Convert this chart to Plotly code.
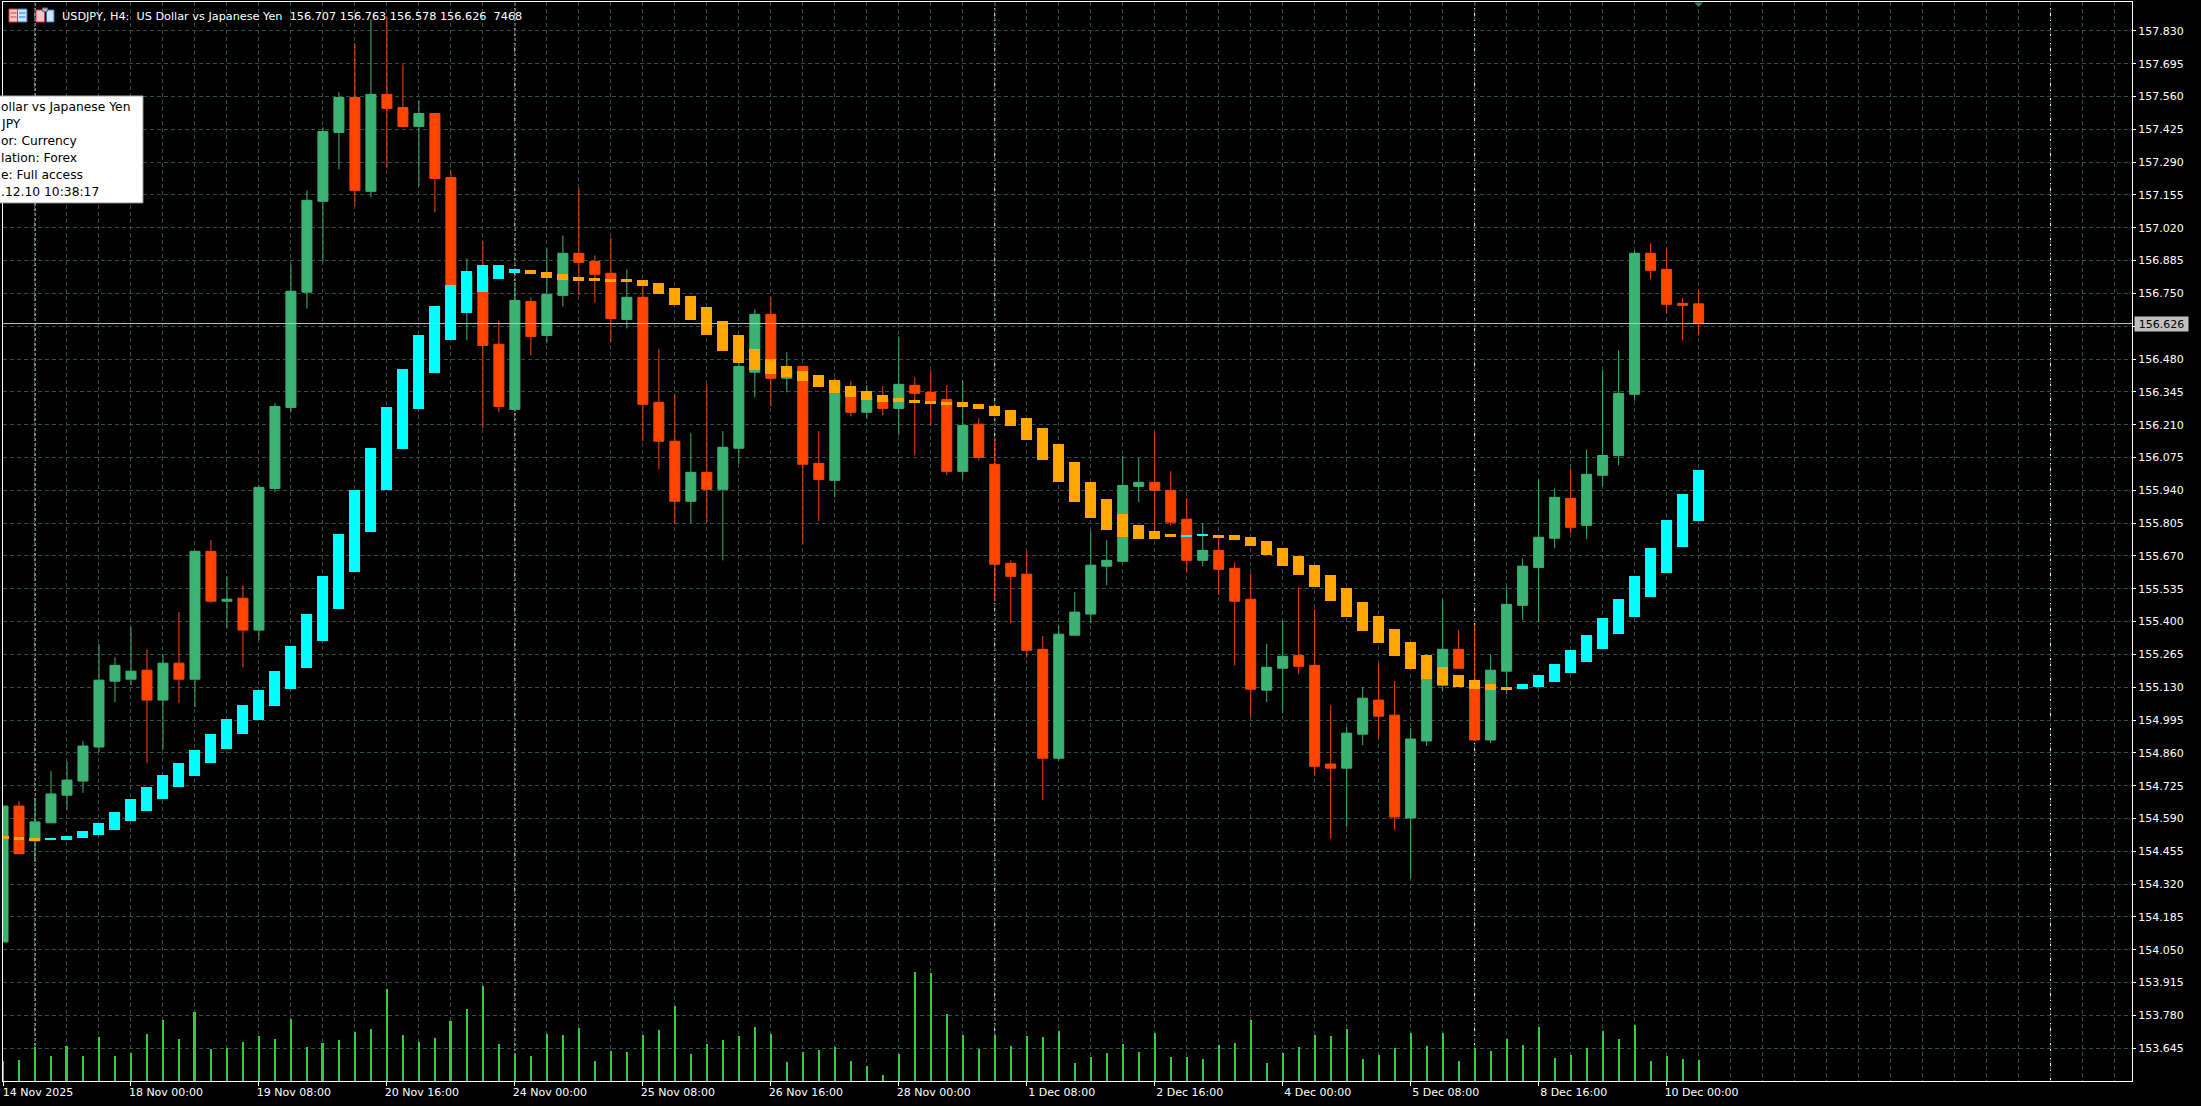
import plotly.graph_objects as go

# ---------- data ----------
candle_open = [154.082,154.641,154.498,154.572,154.686,154.744,154.884,155.155,155.163,155.200,155.077,155.229,155.163,155.689,155.484,155.496,155.365,155.948,156.281,156.755,157.129,157.412,157.556,157.170,157.569,157.515,157.437,157.490,157.227,156.680,156.824,156.541,156.273,156.717,156.577,156.742,156.915,156.882,156.833,156.643,156.734,156.302,156.142,155.895,156.014,155.944,156.113,156.426,156.664,156.401,156.450,156.051,155.981,156.359,156.261,156.318,156.277,156.372,156.343,156.314,156.018,156.212,156.047,155.640,155.595,155.286,154.838,155.344,155.431,155.628,155.648,155.956,155.973,155.940,155.821,155.652,155.693,155.619,155.492,155.118,155.208,155.261,155.220,154.814,154.797,154.937,155.077,155.015,154.592,154.909,155.138,155.286,155.151,154.913,155.196,155.467,155.623,155.743,155.907,155.796,156.002,156.083,156.335,156.915,156.849,156.709,156.707]
candle_high = [154.641,154.662,154.666,154.785,154.826,154.909,155.308,155.253,155.377,155.286,155.265,155.439,155.693,155.735,155.586,155.549,155.960,156.298,156.870,157.174,157.433,157.577,157.779,157.877,157.889,157.692,157.544,157.490,157.256,156.894,156.964,156.639,156.796,156.734,156.935,156.988,157.186,156.906,156.980,156.849,156.783,156.520,156.335,156.175,156.377,156.183,156.463,156.684,156.734,156.508,156.450,156.183,156.401,156.389,156.372,156.368,156.573,156.405,156.434,156.372,156.393,156.236,156.150,155.652,155.689,155.340,155.385,155.521,155.772,155.735,156.083,156.075,156.179,156.018,155.907,155.805,155.747,155.644,155.599,155.308,155.406,155.541,155.451,155.056,154.966,155.130,155.229,155.155,154.962,155.265,155.492,155.365,155.385,155.265,155.545,155.660,155.985,155.948,156.030,156.108,156.434,156.516,156.927,156.956,156.939,156.730,156.763]
candle_low = [154.082,154.445,154.411,154.572,154.625,154.695,154.863,155.069,155.138,154.818,154.871,155.065,155.048,155.476,155.373,155.212,155.324,155.932,156.261,156.688,156.878,157.260,157.108,157.145,157.264,157.433,157.190,157.083,156.721,156.557,156.195,156.261,156.265,156.495,156.545,156.697,156.742,156.713,156.549,156.606,156.142,156.026,155.801,155.805,155.809,155.652,156.047,156.323,156.285,156.343,155.718,155.813,155.911,156.244,156.236,156.248,156.166,156.083,156.207,156.002,155.985,156.063,155.484,155.394,155.253,154.666,154.830,155.344,155.394,155.549,155.648,155.891,155.739,155.796,155.603,155.628,155.508,155.220,155.007,155.069,155.024,155.183,154.768,154.506,154.555,154.892,154.917,154.543,154.345,154.888,155.114,155.208,154.913,154.900,155.102,155.406,155.398,155.702,155.763,155.739,155.956,156.043,156.310,156.808,156.668,156.557,156.578]
candle_close = [154.641,154.445,154.576,154.691,154.748,154.888,155.159,155.220,155.196,155.077,155.229,155.163,155.689,155.484,155.492,155.365,155.952,156.285,156.759,157.133,157.416,157.556,157.174,157.569,157.511,157.437,157.490,157.223,156.742,156.824,156.536,156.285,156.721,156.573,156.746,156.915,156.878,156.829,156.647,156.734,156.294,156.142,155.895,156.014,155.944,156.117,156.450,156.664,156.401,156.438,156.047,155.985,156.389,156.261,156.331,156.277,156.376,156.339,156.310,156.018,156.207,156.075,155.636,155.586,155.282,154.838,155.348,155.439,155.632,155.652,155.960,155.973,155.940,155.809,155.652,155.693,155.615,155.484,155.122,155.212,155.257,155.216,154.805,154.797,154.941,155.085,155.011,154.596,154.917,155.253,155.286,155.208,154.913,155.200,155.471,155.628,155.747,155.911,155.788,156.006,156.083,156.339,156.915,156.845,156.705,156.701,156.626]

band_upper = [154.518,154.514,154.510,154.506,154.518,154.539,154.572,154.617,154.670,154.719,154.768,154.818,154.871,154.937,154.999,155.056,155.118,155.196,155.299,155.431,155.586,155.760,155.940,156.113,156.281,156.438,156.577,156.697,156.783,156.841,156.865,156.865,156.849,156.845,156.837,156.829,156.816,156.812,156.808,156.808,156.804,156.792,156.771,156.738,156.693,156.635,156.577,156.520,156.479,156.450,156.430,156.413,156.393,156.368,156.347,156.331,156.318,156.310,156.306,156.302,156.302,156.294,156.285,156.269,156.236,156.195,156.129,156.055,155.973,155.903,155.842,155.796,155.772,155.760,155.755,155.760,155.755,155.755,155.747,155.731,155.702,155.669,155.632,155.590,155.537,155.480,155.422,155.369,155.315,155.261,155.212,155.179,155.159,155.142,155.130,155.142,155.179,155.224,155.282,155.344,155.414,155.492,155.586,155.702,155.817,155.924,156.022]
band_lower = [154.506,154.502,154.498,154.502,154.502,154.510,154.522,154.543,154.580,154.621,154.670,154.719,154.764,154.818,154.876,154.937,154.995,155.052,155.122,155.208,155.320,155.451,155.603,155.768,155.940,156.108,156.273,156.422,156.557,156.668,156.755,156.808,156.833,156.829,156.812,156.804,156.800,156.800,156.800,156.796,156.779,156.746,156.701,156.639,156.577,156.512,156.463,156.434,156.418,156.405,156.389,156.364,156.339,156.323,156.310,156.302,156.302,156.298,156.298,156.294,156.281,156.273,156.244,156.203,156.146,156.063,155.973,155.891,155.825,155.776,155.747,155.739,155.739,155.747,155.751,155.751,155.747,155.735,155.710,155.673,155.628,155.590,155.541,155.484,155.418,155.361,155.311,155.257,155.204,155.163,155.138,155.130,155.122,155.118,155.122,155.122,155.130,155.151,155.187,155.233,155.286,155.348,155.418,155.500,155.599,155.706,155.813]
band_trend = ["down"]*3 + ["up"]*30 + ["down"]*41 + ["up"]*2 + ["down"]*19 + ["up"]*12

tick_volume = [7100,7468,12070,8875,12425,8875,15620,8875,9940,16685,21655,14910,24495,11360,11715,13845,15975,14910,22010,12070,13490,14555,17395,18460,32660,16330,13845,15265,21300,25560,33725,13135,9585,8875,16685,16330,18815,7100,10650,10295,16330,18105,26625,9585,13135,14555,15975,19170,16685,6745,10295,11005,12070,7100,5325,2130,9585,38695,38340,23785,16330,11360,16330,12425,15975,15620,17750,6390,8520,9940,13135,10295,17040,8520,8520,7810,12780,13490,21655,6390,9940,12070,16330,15975,18460,7810,9230,11715,17040,12425,17040,7100,11715,10650,14910,12780,19170,8165,9230,11715,17750,14910,19880,7100,8875,7810,7468]

x_tick_index = [0,8,16,24,32,40,48,56,64,72,80,88,96,104]
x_tick_labels = ["14 Nov 2025","18 Nov 00:00","19 Nov 08:00","20 Nov 16:00","24 Nov 00:00","25 Nov 08:00","26 Nov 16:00","28 Nov 00:00","1 Dec 08:00","2 Dec 16:00","4 Dec 00:00","5 Dec 08:00","8 Dec 16:00","10 Dec 00:00"]
y_ticks = [157.830,157.695,157.560,157.425,157.290,157.155,157.020,156.885,156.750,156.615,156.480,156.345,156.210,156.075,155.940,155.805,155.670,155.535,155.400,155.265,155.130,154.995,154.860,154.725,154.590,154.455,154.320,154.185,154.050,153.915,153.780,153.645]
period_separators = [2,32,62,92,128]
last_price = 156.626
header = "USDJPY, H4:\u00a0\u00a0US Dollar vs Japanese Yen\u00a0\u00a0156.707 156.763 156.578 156.626\u00a0\u00a07468"
info_lines = ["ollar vs Japanese Yen","JPY","or: Currency","lation: Forex","e: Full access",".12.10 10:38:17"]

# ---------- layout constants ----------
W, H = 2201, 1106
L, R, T, B = 2.5, 2132, 1.5, 1081
PX_PER_CANDLE = 16.0
X0 = 2.5
X_RANGE = [(L - X0) / PX_PER_CANDLE, (R - X0) / PX_PER_CANDLE]
PX_PER_PRICE = 243.2
Y_RANGE = [157.83 - (B - 30.4) / PX_PER_PRICE, 157.83 + (30.4 - T) / PX_PER_PRICE]
VOL_RANGE = [0, (B - T) * 355]
GRID = "#2F4F4F"
FONT = "DejaVu Sans"

def px(x): return (x - L) / (R - L)
def py(y): return 1 - (y - T) / (B - T)

xs = list(range(len(candle_open)))
fig = go.Figure()

fig.add_trace(go.Candlestick(
    x=xs, open=candle_open, high=candle_high, low=candle_low, close=candle_close,
    increasing=dict(line=dict(color="#3CB371", width=1), fillcolor="#3CB371"),
    decreasing=dict(line=dict(color="#FF4500", width=1), fillcolor="#FF4500"),
    whiskerwidth=0, showlegend=False, hoverinfo="skip"))

fig.add_trace(go.Bar(
    x=xs, y=[u - l for u, l in zip(band_upper, band_lower)], base=band_lower, width=0.6875,
    marker=dict(color=["#00FFFF" if t == "up" else "#FFA500" for t in band_trend], line=dict(width=0)),
    yaxis="y2", showlegend=False, hoverinfo="skip"))

fig.add_trace(go.Bar(
    x=xs, y=tick_volume, width=0.125, marker=dict(color="#32CD32", line=dict(width=0)),
    yaxis="y3", showlegend=False, hoverinfo="skip"))

shapes = []
for s in period_separators:
    shapes.append(dict(type="line", xref="x", yref="paper", x0=s, x1=s, y0=0, y1=1, layer="between",
                       line=dict(color="#FFFFFF", width=1, dash="3px,2px")))
shapes.append(dict(type="line", xref="paper", yref="y", x0=0, x1=1, y0=last_price, y1=last_price,
                   layer="above", line=dict(color="#C0C0C0", width=1)))

def box(x0, y0, x1, y1, fill, line=None):
    return dict(type="rect", xref="paper", yref="paper", x0=px(x0), x1=px(x1), y0=py(y1), y1=py(y0),
                layer="above", fillcolor=fill, line=dict(color=line or fill, width=1 if line else 0))

# info tooltip
shapes.append(box(-1, 95.5, 142.5, 202.5, "#FFFFFF", "#A0A0A0"))
# header icons
shapes += [box(8.5, 8.5, 17, 21.5, "#F4C8C8", "#D83A3A"), box(17, 8.5, 26.5, 21.5, "#CFE2F6", "#2878C8"),
           box(10, 12, 16, 13, "#D83A3A"), box(10, 16, 16, 17, "#D83A3A"),
           box(18.5, 12, 25, 13, "#2878C8"), box(18.5, 16, 25, 17, "#2878C8"),
           box(35.5, 9.5, 44, 21.5, "#F4C8C8", "#D83A3A"), box(46, 9.5, 53.5, 21.5, "#CFE2F6", "#2878C8"),
           box(42, 7.5, 47, 11, "#B0B0B0", "#707070")]
# small marker at the top of the last bar
shapes.append(dict(type="path", xref="paper", yref="paper",
                   path=f"M {px(1694)} {py(2)} L {px(1703)} {py(2)} L {px(1698.5)} {py(6.5)} Z",
                   fillcolor="#2E7D6B", line=dict(width=0), layer="above"))

annotations = [dict(xref="paper", yref="paper", x=px(60), y=py(16), text=header, showarrow=False,
                    xanchor="left", yanchor="middle", font=dict(family=FONT, size=11.25, color="#FFFFFF"))]
for k, line in enumerate(info_lines):
    annotations.append(dict(xref="paper", yref="paper", x=px(-2), y=py(107 + 17 * k), text=line, showarrow=False,
                            xanchor="left", yanchor="middle", font=dict(family=FONT, size=12.3, color="#000000")))
annotations.append(dict(xref="paper", yref="y", x=px(2161.5), y=last_price, text=f"{last_price:.3f}", showarrow=False,
                        xanchor="center", yanchor="middle", bgcolor="#C0C0C0", width=53, height=14, borderpad=0,
                        font=dict(family=FONT, size=11, color="#000000")))

fig.update_layout(
    width=W, height=H, paper_bgcolor="#000000", plot_bgcolor="#000000",
    margin=dict(l=L, r=W - R, t=T, b=H - B, pad=0), bargap=0, barmode="overlay",
    boxgap=0.375, boxgroupgap=0, boxmode="overlay",
    showlegend=False, font=dict(family=FONT, size=11, color="#FFFFFF"),
    shapes=shapes, annotations=annotations, hovermode=False,
    xaxis=dict(range=X_RANGE, autorange=False, rangeslider=dict(visible=False), tickmode="array",
               tickvals=x_tick_index, ticktext=x_tick_labels, ticks="outside", ticklen=4, tickcolor="#FFFFFF",
               tickwidth=1, showline=True, linecolor="#FFFFFF", linewidth=1, mirror=True,
               showgrid=True, gridcolor=GRID, griddash="4px,3px", gridwidth=1, zeroline=False,
               ticklabelshift=35, ticklabelstandoff=-3, tickangle=0, tickfont=dict(family=FONT, size=11, color="#FFFFFF"),
               minor=dict(tick0=0, dtick=2, showgrid=True, gridcolor=GRID, griddash="4px,3px", gridwidth=1, ticks="")),
    yaxis=dict(range=Y_RANGE, autorange=False, side="right", tickmode="array", tickvals=y_ticks,
               ticktext=[f"{v:.3f}" for v in y_ticks], ticks="outside", ticklen=3, tickcolor="#FFFFFF", tickwidth=1,
               showline=True, linecolor="#FFFFFF", linewidth=1, mirror=True,
               showgrid=True, gridcolor=GRID, griddash="4px,3px", gridwidth=1, zeroline=False,
               tickfont=dict(family=FONT, size=11, color="#FFFFFF")),
    yaxis2=dict(range=Y_RANGE, autorange=False, overlaying="y", visible=False, side="right"),
    yaxis3=dict(range=VOL_RANGE, autorange=False, overlaying="y", visible=False, side="right"),
)

fig.write_html("out.html", post_script="document.body.style.margin='0';document.body.style.background='#000';document.documentElement.style.overflow='hidden';",
               config=dict(displayModeBar=False))
